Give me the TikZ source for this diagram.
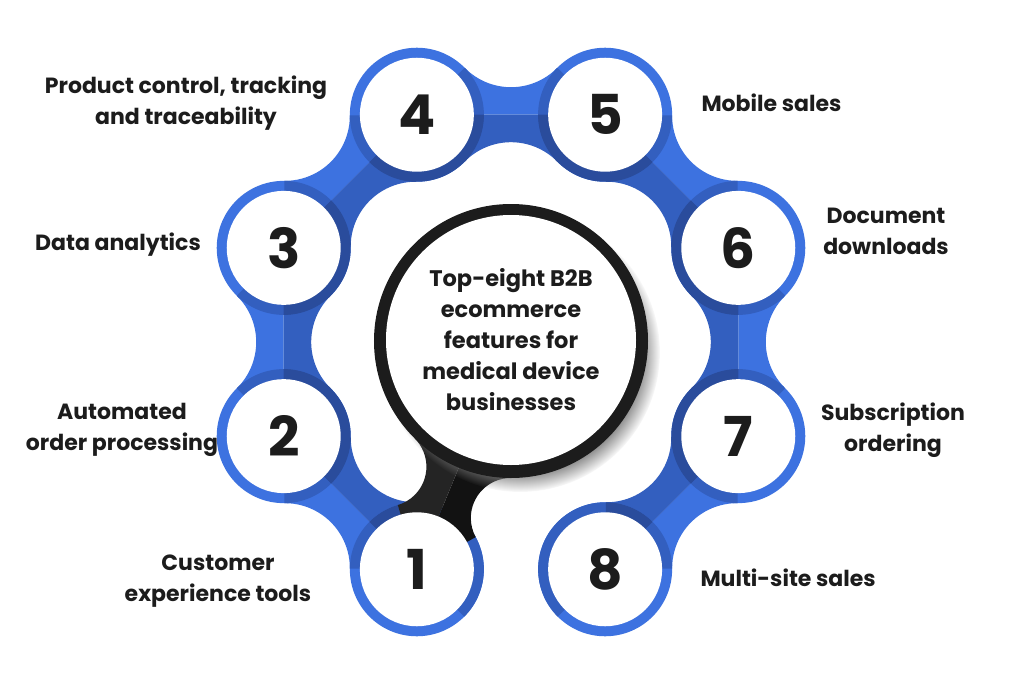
\documentclass[tikz,border=0pt]{standalone}
\usepackage{fontspec}
\setmainfont{Poppins}
\usetikzlibrary{shadows}

\definecolor{bandlight}{HTML}{3D72E0}
\definecolor{bandmid}{HTML}{335FBF}
\definecolor{banddark}{HTML}{2A4C9C}
\definecolor{ink}{HTML}{1C1C1C}

% neck halves between two neighbouring circles (local frame, outside is +y)
\newcommand{\neckout}{(-94.1,0) -- (-46.3,46.9) arc[start angle=224.5, end angle=315.5, radius=64.9] -- (94.1,0) -- cycle}
\newcommand{\neckin}{(-94.1,0) -- (-46.3,-46.9) arc[start angle=135.5, end angle=44.5, radius=64.9] -- (94.1,0) -- cycle}

\begin{document}
\begin{tikzpicture}[x=1pt,y=1pt,
  feat/.style={font=\fontsize{22}{31}\selectfont\bfseries, text=ink, align=center},
  num/.style={circle, fill=white, minimum size=114pt, inner sep=0pt, font=\fontsize{55}{55}\selectfont\bfseries, text=ink}]

\fill[white] (-511,-341) rectangle (513,342);
\useasboundingbox (-511,-341) rectangle (513,342);

% Necks
\foreach \m in {225,180,...,-45}
{
    \begin{scope}[shift={(\m:227.3)}, rotate=\m-90]
    \fill[bandlight] \neckout;
    \fill[bandmid] \neckin;
    \end{scope}
}

% Rings, inner side darker
\foreach \a/\s/\e/\c in {247.5/-45/135/bandmid, 202.5/-45/90/banddark, 157.5/-90/45/banddark, 112.5/225/360/banddark, 67.5/180/315/banddark, 22.5/135/270/banddark, -22.5/90/225/banddark, -67.5/45/225/bandmid}
{
    \fill[bandlight] (\a:246) circle (67);
    \fill[\c] (\a:246) -- +(\s:67) arc[start angle=\s, end angle=\e, radius=67] -- cycle;
}

% Ring parts lying on a neck
\foreach \m in {225,180,...,-45}
{
    \begin{scope}[shift={(\m:227.3)}, rotate=\m-90]
    \begin{scope}
    \clip \neckout;
    \fill[bandmid] (-94.1,0) circle (67) (94.1,0) circle (67);
    \end{scope}
    \begin{scope}
    \clip \neckin;
    \fill[banddark] (-94.1,0) circle (67) (94.1,0) circle (67);
    \end{scope}
    \end{scope}
}

% Stem of the lens
\begin{scope}[shift={(0,1)}, rotate=247.6]
\fill[black!93] (0,0) -- (126.7,52.1) arc[start angle=202.3, end angle=321.0, radius=40] -- (246.9,0) -- cycle;
\fill[black!86] (0,0) -- (126.7,-52.1) arc[start angle=157.7, end angle=39.0, radius=40] -- (246.9,0) -- cycle;
\end{scope}

% Lens
\fill[ink, circular drop shadow={shadow xshift=9pt, shadow yshift=-11pt, shadow scale=1.02}] (0,1) circle (137);
\node[circle, fill=white, minimum size=250pt, inner sep=0pt, font=\fontsize{22.5}{31}\selectfont\bfseries, text=ink, align=center] (title) at (0,2)
  {Top-eight B2B\\ecommerce\\features for\\medical device\\businesses};

% Numbered circles
\foreach \n/\a in {1/247.5, 2/202.5, 3/157.5, 4/112.5, 5/67.5, 6/22.5, 7/-22.5, 8/-67.5}
{
    \node[num] (c\n) at (\a:246) {\n};
}

% Feature labels
\node[feat] (l1) at (-293,-239) {Customer\\experience tools};
\node[feat] (l2) at (-389,-88) {Automated\\order processing};
\node[feat] (l3) at (-393,97) {Data analytics};
\node[feat] (l4) at (-325,239) {Product control, tracking\\and traceability};
\node[feat, anchor=west] (l5) at (187,239) {Mobile sales};
\node[feat] (l6) at (375,111) {Document\\downloads};
\node[feat] (l7) at (382,-88) {Subscription\\ordering};
\node[feat, anchor=west] (l8) at (186,-236) {Multi-site sales};
\end{tikzpicture}
\end{document}
